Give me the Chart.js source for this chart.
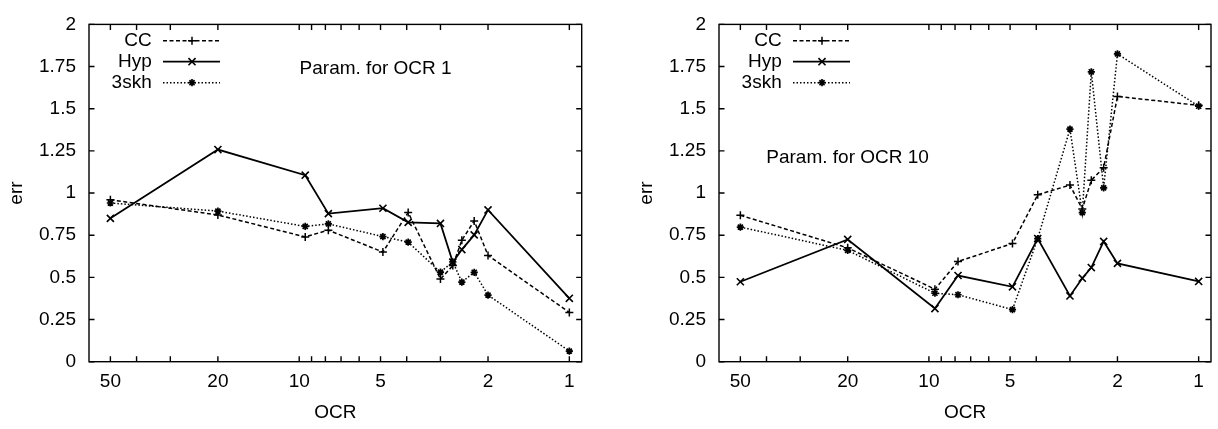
<!DOCTYPE html>
<html>
<head>
<meta charset="utf-8">
<script src="https://cdn.jsdelivr.net/npm/chart.js@4.4.1/dist/chart.umd.min.js"></script>
<style>
html,body{margin:0;padding:0;background:#fff;overflow:hidden}
#wrap{position:relative;width:1218px;height:429px;background:#fff}
canvas{position:absolute;top:0}
#c1{left:0}
#c2{left:609px}
</style>
</head>
<body>
<div id="wrap">
<canvas id="c1" width="609" height="429"></canvas>
<canvas id="c2" width="609" height="429"></canvas>
</div>
<script>
// ---- data ----
const ocr = [50, 20, 9.5, 7.8, 4.9, 3.95, 3, 2.7, 2.5, 2.25, 2, 1];

const ccOcr1  = [0.96, 0.87, 0.74, 0.78, 0.65, 0.885, 0.49, 0.57, 0.72, 0.835, 0.63, 0.292];
const hypOcr1 = [0.85, 1.258, 1.106, 0.878, 0.91, 0.826, 0.82, 0.59, 0.665, 0.752, 0.90, 0.376];
const skhOcr1 = [0.941, 0.893, 0.802, 0.817, 0.742, 0.709, 0.531, 0.592, 0.472, 0.53, 0.395, 0.063];

const ccOcr10  = [0.868, 0.675, 0.43, 0.594, 0.701, 0.99, 1.047, 0.905, 1.076, 1.15, 1.573, 1.52];
const hypOcr10 = [0.474, 0.725, 0.315, 0.511, 0.444, 0.73, 0.39, 0.495, 0.558, 0.713, 0.583, 0.476];
const skhOcr10 = [0.798, 0.66, 0.406, 0.397, 0.309, 0.73, 1.379, 0.884, 1.719, 1.031, 1.825, 1.515];

const seriesLabels = ['CC', 'Hyp', '3skh'];
const xTickValues = [50, 40, 30, 20, 10, 9, 8, 7, 6, 5, 4, 3, 2, 1];
const xTickLabels = ['50', '', '', '20', '10', '', '', '', '', '5', '', '', '2', '1'];
const yTickValues = [0, 0.25, 0.5, 0.75, 1, 1.25, 1.5, 1.75, 2];
const yTickLabels = ['0', '0.25', '0.5', '0.75', '1', '1.25', '1.5', '1.75', '2'];
const xTitle = 'OCR';
const yTitle = 'err';
const note1 = 'Param. for OCR 1';
const note10 = 'Param. for OCR 10';

// ---- styling ----
const FONT = "'Liberation Sans', Arial, Helvetica, sans-serif";
const FS = 19;
Chart.defaults.font.family = FONT;
Chart.defaults.font.size = FS;
Chart.defaults.color = '#000';

const styles = [
  {borderDash: [4, 2.5], pointStyle: 'cross', pointRadius: 4, borderWidth: 1.5, pointBorderWidth: 1.5},
  {borderDash: [], pointStyle: 'crossRot', pointRadius: 5, borderWidth: 1.8, pointBorderWidth: 1.6},
  {borderDash: [1.5, 2], pointStyle: 'star', pointRadius: 3.6, borderWidth: 1.5, pointBorderWidth: 1.7}
];

function drawMarker(ctx, style, r, w, x, y) {
  ctx.lineWidth = w;
  ctx.beginPath();
  if (style === 'cross' || style === 'star') {
    ctx.moveTo(x - r, y); ctx.lineTo(x + r, y);
    ctx.moveTo(x, y - r); ctx.lineTo(x, y + r);
  }
  if (style === 'crossRot' || style === 'star') {
    const d = r * Math.SQRT1_2;
    ctx.moveTo(x - d, y - d); ctx.lineTo(x + d, y + d);
    ctx.moveTo(x - d, y + d); ctx.lineTo(x + d, y - d);
  }
  ctx.stroke();
}

const framePlugin = {
  id: 'frameTicks',
  afterDraw(chart, args, opts) {
    const {ctx, chartArea: a} = chart;
    const xs = chart.scales.x, ys = chart.scales.y;
    const TL = 5.5;
    ctx.save();
    ctx.strokeStyle = '#000';
    ctx.lineWidth = 1.4;
    ctx.setLineDash([]);
    ctx.strokeRect(a.left, a.top, a.right - a.left, a.bottom - a.top);
    ctx.beginPath();
    xTickValues.forEach(v => {
      const px = xs.getPixelForValue(v);
      ctx.moveTo(px, a.bottom); ctx.lineTo(px, a.bottom - TL);
      ctx.moveTo(px, a.top); ctx.lineTo(px, a.top + TL);
    });
    yTickValues.forEach(v => {
      const py = ys.getPixelForValue(v);
      ctx.moveTo(a.left, py); ctx.lineTo(a.left + TL, py);
      ctx.moveTo(a.right, py); ctx.lineTo(a.right - TL, py);
    });
    ctx.stroke();

    // legend (key)
    ctx.font = FS + 'px ' + FONT;
    ctx.fillStyle = '#000';
    ctx.textBaseline = 'middle';
    chart.data.datasets.forEach((ds, i) => {
      const y = a.top + 16.3 + i * 21;
      ctx.textAlign = 'right';
      ctx.fillText(ds.label, a.left + 62.7, y);
      ctx.lineWidth = ds.borderWidth;
      ctx.setLineDash(ds.borderDash);
      ctx.beginPath();
      ctx.moveTo(a.left + 74, y); ctx.lineTo(a.left + 131, y);
      ctx.stroke();
      ctx.setLineDash([]);
      drawMarker(ctx, ds.pointStyle, ds.pointRadius, ds.pointBorderWidth, a.left + 103, y);
    });

    // note
    ctx.textAlign = 'left';
    ctx.fillText(opts.text, a.left + opts.dx, a.top + opts.dy);
    ctx.restore();
  }
};

function makeChart(id, cc, hyp, skh, cfg) {
  const series = [cc, hyp, skh];
  const datasets = series.map((vals, i) => ({
    label: seriesLabels[i],
    data: ocr.map((x, j) => ({x: x, y: vals[j]})),
    borderColor: '#000',
    backgroundColor: '#000',
    borderWidth: styles[i].borderWidth,
    borderDash: styles[i].borderDash,
    pointStyle: styles[i].pointStyle,
    pointRadius: styles[i].pointRadius,
    pointBorderWidth: styles[i].pointBorderWidth,
    pointBorderColor: '#000',
    pointBackgroundColor: '#000',
    tension: 0,
    fill: false
  }));
  return new Chart(document.getElementById(id), {
    type: 'line',
    data: {datasets},
    plugins: [framePlugin],
    options: {
      responsive: false,
      animation: false,
      devicePixelRatio: 1,
      events: [],
      layout: {padding: {left: 0, right: cfg.padRight, top: 12.7, bottom: 0}},
      plugins: {
        legend: {display: false},
        tooltip: {enabled: false},
        frameTicks: {text: cfg.note, dx: cfg.noteDx, dy: cfg.noteDy}
      },
      scales: {
        x: {
          type: 'logarithmic',
          reverse: true,
          min: 0.9,
          max: 60,
          grid: {display: false, drawTicks: false},
          border: {display: false},
          afterBuildTicks: s => { s.ticks = xTickValues.map(v => ({value: v})); },
          afterFit: s => { s.height = 67.3; },
          ticks: {
            autoSkip: false, maxRotation: 0, minRotation: 0, padding: 9,
            callback: v => { const k = xTickValues.indexOf(v); return k >= 0 ? xTickLabels[k] : ''; }
          },
          title: {display: true, text: xTitle, padding: {top: 0, bottom: 4.6}}
        },
        y: {
          type: 'linear',
          min: 0,
          max: 2,
          grid: {display: false, drawTicks: false},
          border: {display: false},
          afterBuildTicks: s => { s.ticks = yTickValues.map(v => ({value: v})); },
          afterFit: s => { s.width = cfg.yWidth; },
          ticks: {
            padding: 13,
            callback: v => { const k = yTickValues.indexOf(v); return k >= 0 ? yTickLabels[k] : ''; }
          },
          title: {display: true, text: yTitle, padding: {top: cfg.yTitlePad, bottom: 0}}
        }
      }
    }
  });
}

makeChart('c1', ccOcr1, hypOcr1, skhOcr1,
  {padRight: 27.3, yWidth: 89, yTitlePad: 5.6, note: note1, noteDx: 210.6, noteDy: 44.6});
makeChart('c2', ccOcr10, hypOcr10, skhOcr10,
  {padRight: 7, yWidth: 110, yTitlePad: 26.6, note: note10, noteDx: 47.3, noteDy: 133.2});
</script>
</body>
</html>
